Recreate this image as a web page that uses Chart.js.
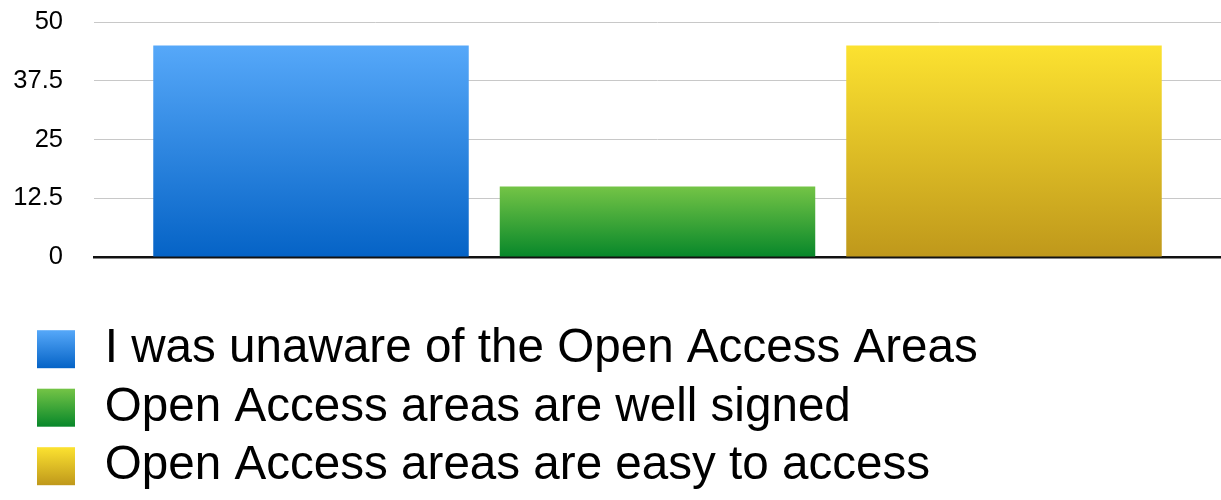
<!DOCTYPE html>
<html>
<head>
<meta charset="utf-8">
<script src="https://cdn.jsdelivr.net/npm/chart.js@4/dist/chart.umd.min.js"></script>
<style>
  html, body { margin: 0; padding: 0; background: #fff; }
  #wrap { width: 1221px; height: 500px; position: relative; }
</style>
</head>
<body>
<div id="wrap"><canvas id="c"></canvas></div>
<script>
const categories = [''];
const seriesLabels = [
  'I was unaware of the Open Access Areas',
  'Open Access areas are well signed',
  'Open Access areas are easy to access'
];
const seriesValues = [[45], [15], [45]];
const tickValues = [0, 12.5, 25, 37.5, 50];
const tickLabels = ['0', '12.5', '25', '37.5', '50'];
const gradStops = [
  ['#56a8f9', '#0563c6'],
  ['#74c446', '#07872a'],
  ['#fce230', '#bf981b']
];

function vGrad(ctx, top, bottom, stops) {
  const g = ctx.createLinearGradient(0, top, 0, bottom);
  g.addColorStop(0, stops[0]);
  g.addColorStop(1, stops[1]);
  return g;
}

const FONT = '"Liberation Sans", Arial, Helvetica, sans-serif';
const LEG_FONT = 47.6, BOX = 38, BOX_SLOT = 44, LEG_PAD = 10.9, LEG_LEFT = 26.1;

const legendPlugin = {
  id: 'legendGrad',
  afterLayout(chart) {
    if (chart.legend) chart.legend.left = LEG_LEFT;
  },
  afterDraw(chart) {
    const lg = chart.legend;
    if (!lg) return;
    const ctx = chart.ctx;
    const itemH = Math.max(LEG_FONT, BOX);
    seriesLabels.forEach((t, i) => {
      const left = lg.left + LEG_PAD;
      const top = lg.top + LEG_PAD + i * (itemH + LEG_PAD) + Math.max((LEG_FONT - BOX) / 2, 0);
      ctx.save();
      ctx.fillStyle = vGrad(ctx, top, top + BOX, gradStops[i]);
      ctx.fillRect(left, top, BOX, BOX);
      ctx.restore();
    });
  }
};

const datasets = seriesLabels.map((lab, i) => ({
  label: lab,
  data: seriesValues[i],
  backgroundColor: (c) => {
    const ca = c.chart.chartArea;
    if (!ca) return gradStops[i][0];
    const top = c.chart.scales.y.getPixelForValue(seriesValues[i][0]);
    return vGrad(c.chart.ctx, top, ca.bottom, gradStops[i]);
  },
  borderWidth: 0,
  barPercentage: 0.9105,
  categoryPercentage: 1039.5 / 1127
}));

new Chart(document.getElementById('c'), {
  type: 'bar',
  data: { labels: categories, datasets },
  plugins: [legendPlugin],
  options: {
    responsive: true,
    maintainAspectRatio: false,
    animation: false,
    layout: { padding: { left: 0, right: 0, top: 22, bottom: 0 } },
    plugins: {
      tooltip: { enabled: false },
      legend: {
        position: 'bottom',
        align: 'start',
        labels: {
          boxWidth: BOX_SLOT,
          boxHeight: BOX,
          padding: LEG_PAD,
          color: '#000',
          font: { family: FONT, size: LEG_FONT },
          generateLabels: () => seriesLabels.map((t, i) => ({
            text: t,
            fillStyle: 'rgba(0,0,0,0)',
            strokeStyle: 'rgba(0,0,0,0)',
            lineWidth: 0,
            hidden: false,
            datasetIndex: i
          }))
        },
        onClick: () => {}
      }
    },
    scales: {
      x: {
        grid: { display: false, drawTicks: false },
        ticks: { display: false },
        border: { display: true, color: '#111', width: 2.5 },
        afterFit: (s) => { s.height = 57.5; s.paddingLeft = 0; s.paddingRight = 0; }
      },
      y: {
        min: 0,
        max: 50,
        afterBuildTicks: (s) => { s.ticks = tickValues.map(v => ({ value: v })); },
        ticks: {
          padding: 31,
          color: '#000',
          font: { family: FONT, size: 25.5 },
          callback: (v) => tickLabels[tickValues.indexOf(v)]
        },
        grid: { color: '#c8c8c8', lineWidth: 1, drawTicks: false },
        border: { display: false },
        afterFit: (s) => { s.width = 94; s.paddingTop = 0; s.paddingBottom = 0; }
      }
    }
  }
});
</script>
</body>
</html>
